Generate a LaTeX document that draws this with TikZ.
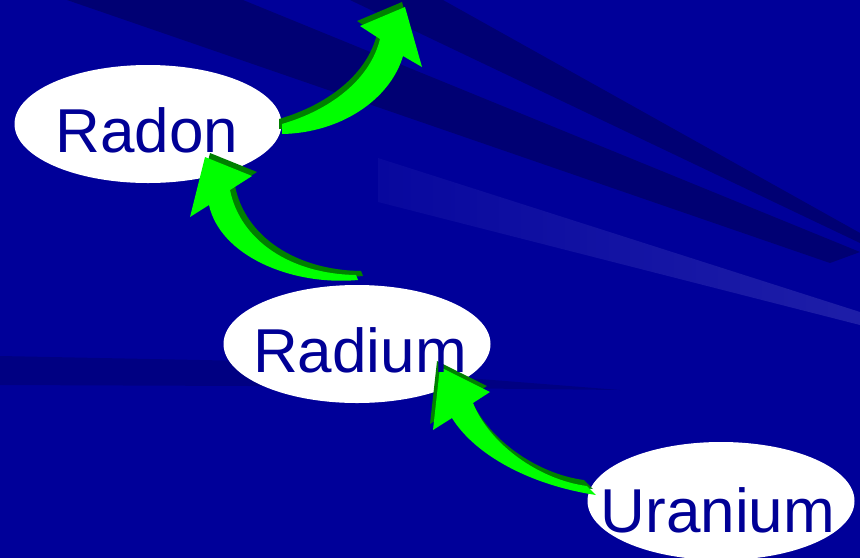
\documentclass[tikz,border=0pt]{standalone}
\usepackage{fontspec}
\setmainfont{Liberation Sans}
\usetikzlibrary{shapes.geometric}
\definecolor{bg}{RGB}{0,0,153}
\definecolor{bgdark}{RGB}{0,0,115}
\definecolor{bglight}{RGB}{30,30,168}
\definecolor{bglightstart}{RGB}{8,8,158}
\definecolor{txt}{RGB}{0,0,150}
\definecolor{arrgreen}{RGB}{0,255,0}
\definecolor{arrdark}{RGB}{0,128,0}
\tikzset{
  ell/.style={ellipse, fill=white, draw=none, inner sep=0pt, minimum width=267pt, minimum height=118pt},
  lbl/.style={text=txt, inner sep=0pt, anchor=base, font=\fontsize{62}{62}\selectfont},
  arrface/.style={fill=arrgreen},
  arrside/.style={fill=arrdark},
}
% block arrow shapes (pixel coordinates, y downwards)
\newcommand\ArrUrRa[1]{\fill[#1] (596,495) .. controls (530,485) and (475,455) .. (452,418) -- (433,430) -- (440,367) -- (490,392) -- (473,403) .. controls (490,445) and (540,480) .. (587,486) -- cycle;}
\newcommand\ArrRaRn[1]{\fill[#1] (358,280) .. controls (290,286) and (220,255) .. (209,205) -- (190,217) -- (205,157) -- (252,176) -- (230,190) .. controls (240,240) and (290,274) .. (356,275) -- cycle;}
\newcommand\ArrRnUp[1]{\fill[#1] (282,124) .. controls (330,110) and (370,80) .. (380,39) -- (360,26) -- (405,7) -- (422,67) -- (403,56) .. controls (390,100) and (340,133) .. (282,134) -- cycle;}
\begin{document}
\begin{tikzpicture}[x=1pt,y=-1pt]
\useasboundingbox (0,0) rectangle (860,558);
\clip (0,0) rectangle (860,558);
% background
\fill[bg] (0,0) rectangle (860,558);
\fill[bgdark] (350,0) -- (443,0) -- (860,233) -- (860,243) -- cycle;
\fill[bgdark] (67,0) -- (243,0) -- (860,252) -- (830,263) -- cycle;
\shade[left color=bglightstart, right color=bglight] (378,158) -- (860,312) -- (860,325) -- (378,202) -- cycle;
\fill[bgdark, opacity=0.6] (0,356) -- (250,361) -- (620,390) -- (250,386) -- (0,385) -- cycle;
% ellipses
\node[ell] (radonE) at (148,124) {};
\node[ell] (radiumE) at (357,344) {};
\node[ell] (uraniumE) at (721,501) {};
% arrows
\ArrUrRa{arrside, shift={(-3,-6)}}
\ArrUrRa{arrface}
\ArrRaRn{arrside, shift={(5,-4)}}
\ArrRaRn{arrface}
\ArrRnUp{arrside, shift={(-3,-5)}}
\ArrRnUp{arrface}
% labels
\node[lbl] (radon) at (147,152) {Radon};
\node[lbl] (radium) at (360,372) {Radium};
\node[lbl] (uranium) at (718,532) {Uranium};
\end{tikzpicture}
\end{document}
